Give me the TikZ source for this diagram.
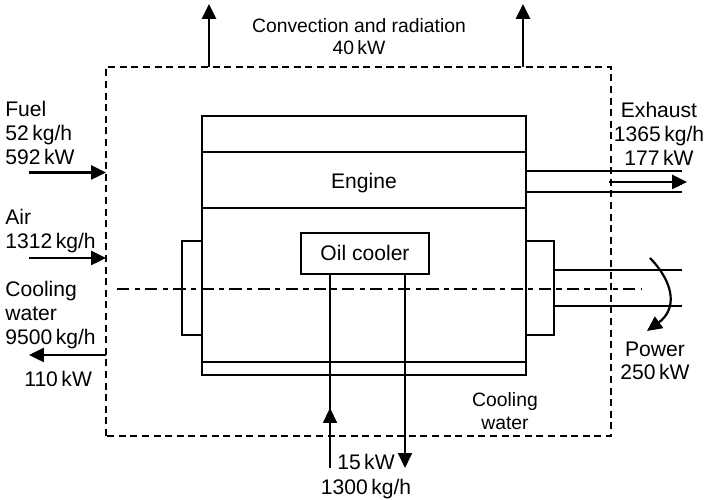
\documentclass[tikz,border=0pt]{standalone}
\usepackage{fontspec}
\setmainfont{Liberation Sans}
\usetikzlibrary{arrows.meta, positioning}

\tikzset{
  wall/.style={line width=1.1pt},
  pipe/.style={line width=0.9pt},
  flow/.style={line width=1.25pt, -{Triangle[length=8.5pt,width=8pt]}},
  boundary/.style={line width=1.1pt, dash pattern=on 4pt off 2.6pt},
  axisline/.style={line width=0.8pt, dash pattern=on 7pt off 3pt on 3pt off 3pt},
  label/.style={font=\fontsize{12}{12}\selectfont, inner sep=0pt, align=center, text height=1em, text depth=0.2em},
  smalllabel/.style={label, font=\fontsize{11}{11}\selectfont},
  leftlabel/.style={label, anchor=west},
}

\begin{document}
\begin{tikzpicture}
  \useasboundingbox (0,0) rectangle (14.1,10);

  % System boundary
  \draw[boundary] (2.12,1.28) rectangle (12.22,8.66);

  % Engine body
  \draw[wall] (4.04,2.50) rectangle (10.52,7.68);
  \draw[pipe] (4.04,6.96) -- (10.52,6.96);
  \draw[wall] (4.04,5.84) -- (10.52,5.84);
  \draw[wall] (4.04,2.76) -- (10.52,2.76);
  \node[label] (engine) at (7.28,6.38) {Engine};

  % Flanges and shaft
  \draw[pipe] (4.04,5.18) -- (3.64,5.18) -- (3.64,3.30) -- (4.04,3.30);
  \draw[pipe] (10.52,5.18) -- (11.08,5.18) -- (11.08,3.30) -- (10.52,3.30);
  \draw[wall] (11.08,4.60) -- (13.64,4.60);
  \draw[wall] (11.08,3.88) -- (13.64,3.88);
  \draw[axisline] (2.34,4.22) -- (12.82,4.22);

  % Exhaust
  \draw[pipe] (10.52,6.58) -- (13.64,6.58);
  \draw[pipe] (10.52,6.16) -- (13.64,6.16);
  \coordinate (exhaustin) at (12.18,6.36);
  \coordinate (exhaustout) at (13.74,6.36);
  \draw[flow] (exhaustin) -- (exhaustout);

  % Oil cooler
  \node[draw, wall, fill=white, label, minimum width=2.56cm, minimum height=0.82cm] (oil) at (7.30,4.93) {Oil cooler};
  \coordinate (oilin) at (6.60,4.52);
  \coordinate (oilout) at (8.10,4.52);
  \coordinate (waterin) at (6.60,0.64);
  \coordinate (waterhead) at (6.60,1.84);
  \coordinate (waterout) at (8.10,0.64);
  \draw[pipe] (oilin) -- (waterin);
  \draw[flow, line width=0.9pt] (waterin) -- (waterhead);
  \draw[flow, line width=0.9pt] (oilout) -- (waterout);

  % Streams on the left
  \coordinate (fuelin) at (0.58,6.55);
  \coordinate (fuelend) at (2.12,6.55);
  \draw[flow] (fuelin) -- (fuelend);
  \coordinate (airin) at (0.58,4.84);
  \coordinate (airend) at (2.12,4.84);
  \draw[flow] (airin) -- (airend);
  \coordinate (coolstart) at (2.12,2.90);
  \coordinate (coolend) at (0.58,2.90);
  \draw[flow] (coolstart) -- (coolend);

  % Losses through the top
  \coordinate (lossa) at (4.18,8.66);
  \coordinate (lossatip) at (4.18,9.92);
  \coordinate (lossb) at (10.46,8.66);
  \coordinate (lossbtip) at (10.46,9.92);
  \draw[flow] (lossa) -- (lossatip);
  \draw[flow] (lossb) -- (lossbtip);

  % Power
  \coordinate (powerstart) at (13.00,4.84);
  \coordinate (powerend) at (12.94,3.38);
  \draw[flow] (powerstart) .. controls (13.52,4.30) and (13.52,3.80) .. (powerend);

  % Labels
  \node[smalllabel] (convection) at (7.18,9.50) {Convection and radiation};
  \node[smalllabel] (convkw) at (7.18,9.06) {40\,kW};
  \node[leftlabel] (fuel) at (0.10,7.82) {Fuel};
  \node[leftlabel] (fuelkg) at (0.10,7.34) {52\,kg/h};
  \node[leftlabel] (fuelkw) at (0.10,6.86) {592\,kW};
  \node[leftlabel] (air) at (0.10,5.66) {Air};
  \node[leftlabel] (airkg) at (0.10,5.18) {1312\,kg/h};
  \node[leftlabel] (cool) at (0.10,4.22) {Cooling};
  \node[leftlabel] (coolw) at (0.10,3.74) {water};
  \node[leftlabel] (coolkg) at (0.10,3.26) {9500\,kg/h};
  \node[leftlabel] (coolkw) at (0.48,2.42) {110\,kW};
  \node[label] (exhaust) at (13.18,7.80) {Exhaust};
  \node[label] (exhaustkg) at (13.18,7.32) {1365\,kg/h};
  \node[label] (exhaustkw) at (13.18,6.84) {177\,kW};
  \node[label] (power) at (13.10,3.02) {Power};
  \node[label] (powerkw) at (13.10,2.56) {250\,kW};
  \node[smalllabel] (coolinga) at (10.10,2.02) {Cooling};
  \node[smalllabel] (coolingb) at (10.10,1.56) {water};
  \node[label] (waterkw) at (7.32,0.76) {15\,kW};
  \node[label] (waterkg) at (7.32,0.26) {1300\,kg/h};
\end{tikzpicture}
\end{document}
